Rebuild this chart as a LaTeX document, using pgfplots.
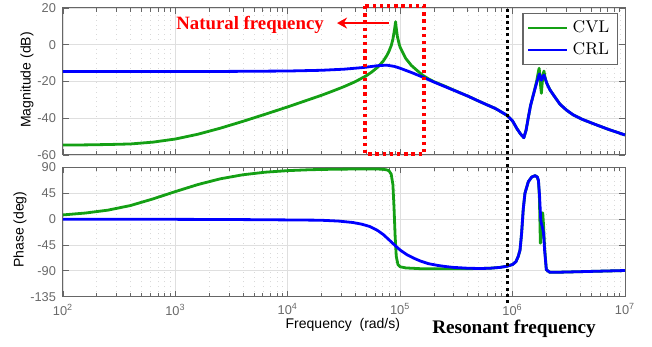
\documentclass[border=0pt]{standalone}
\usepackage{fontspec}
\usepackage{pgfplots}
\pgfplotsset{compat=1.18}
\usetikzlibrary{arrows.meta}
\newfontfamily\arial{Liberation Sans}
\newfontfamily\tnr{Liberation Serif}
\definecolor{cvl}{RGB}{20,160,20}
\definecolor{crl}{RGB}{0,0,255}
\definecolor{tickgray}{RGB}{105,105,105}
\pgfplotsset{
  bode/.style={
    scale only axis, width=281pt, clip=false,
    xmin=2, xmax=7,
    xtick={2,3,4,5,6,7},
    minor xtick={2.30103,2.47712,2.60206,2.69897,2.77815,2.84510,2.90309,2.95424,
                 3.30103,3.47712,3.60206,3.69897,3.77815,3.84510,3.90309,3.95424,
                 4.30103,4.47712,4.60206,4.69897,4.77815,4.84510,4.90309,4.95424,
                 5.30103,5.47712,5.60206,5.69897,5.77815,5.84510,5.90309,5.95424,
                 6.30103,6.47712,6.60206,6.69897,6.77815,6.84510,6.90309,6.95424},
    xmajorgrids, xminorgrids, ymajorgrids,
    major grid style={gray!25, line width=0.4pt},
    minor grid style={gray!30, dotted, line width=0.35pt},
    tick align=inside,
    major tick length=3pt, minor tick length=1.8pt,
    axis line style={black!60, line width=0.5pt},
    tick style={black!60, line width=0.4pt},
    tick label style={font=\arial\fontsize{6.4}{7}\selectfont, color=tickgray},
    label style={font=\arial\fontsize{7}{8}\selectfont},
    every axis plot/.append style={line width=1.4pt, line join=round},
  }
}
\begin{document}
\begin{tikzpicture}
\path[use as bounding box] (0,0) rectangle (326pt,173.5pt);
\begin{axis}[bode, at={(31.5pt,96pt)}, anchor=south west, height=73.5pt,
  ymin=-60, ymax=20, ytick={-60,-40,-20,0,20}, yticklabels={-60,-40,-20,0,20},
  xticklabels={},
  ylabel={Magnitude (dB)},
  ylabel style={at={(axis description cs:-0.064,0.51)}, anchor=center},
  legend style={at={(axis description cs:0.9875,0.966)}, anchor=north east,
    font=\fontsize{8.5}{10}\selectfont, draw=black!60, line width=0.6pt,
    fill=white, inner xsep=2pt, inner ysep=1.5pt, row sep=-0.5pt},
  legend cell align=left,
  legend image code/.code={\draw[#1] (0pt,0pt) -- (19.5pt,0pt);},
]
\addplot[cvl] coordinates {
(2.0,-54.6)(2.2,-54.5)(2.4,-54.3)(2.6,-54.0)(2.8,-53.0)(3.0,-51.3)(3.2,-48.7)(3.4,-45.4)
(3.6,-41.7)(3.8,-37.8)(4.0,-33.8)(4.2,-29.6)(4.3,-27.5)(4.4,-25.2)(4.5,-22.8)(4.6,-20.1)
(4.7,-16.8)(4.75,-14.7)(4.8,-12.2)(4.85,-8.8)(4.88,-6.0)(4.9,-3.6)(4.92,-0.5)(4.935,3)
(4.95,8.5)(4.959,12.5)(4.965,9)(4.975,4.5)(4.99,0.5)(5.0,-1.5)(5.025,-4.5)(5.05,-7.5)
(5.1,-11.3)(5.15,-14.0)(5.2,-16.6)(5.25,-18.5)(5.3,-20.1)(5.4,-22.6)(5.47,-24.5)
(5.6,-27.9)(5.71,-31.0)(5.85,-34.8)(5.95,-38.4)(6.0,-41.5)(6.04,-45.8)(6.07,-48.5)
(6.10,-50.6)(6.12,-46.5)(6.14,-39.5)(6.16,-33)(6.19,-26)(6.215,-19.5)(6.23,-14.5)
(6.236,-12.8)(6.242,-16)(6.25,-23)(6.256,-26.4)(6.262,-22)(6.27,-16.5)(6.279,-14.3)
(6.288,-17.5)(6.3,-20.5)(6.333,-24.6)(6.38,-28.8)(6.422,-32.4)(6.48,-35.6)(6.54,-38.2)
(6.62,-40.6)(6.72,-43.0)(6.85,-46.0)(7.0,-49.1)};
\addlegendentry{CVL}
\addplot[crl] coordinates {
(2,-14.6)(3,-14.6)(3.5,-14.5)(4.0,-14.3)(4.3,-13.9)(4.5,-13.3)(4.67,-12.4)(4.8,-11.4)
(4.88,-11.1)(4.95,-11.8)(5.0,-12.8)(5.1,-15.1)(5.2,-17.6)(5.3,-20.3)(5.47,-24.6)
(5.6,-27.9)(5.71,-31.0)(5.85,-34.8)(5.95,-38.4)(6.0,-41.5)(6.04,-45.8)(6.07,-48.5)
(6.10,-50.6)(6.12,-46.5)(6.14,-39.5)(6.16,-33)(6.19,-26)(6.215,-20.5)(6.238,-15.9)
(6.248,-18)(6.256,-19.3)(6.268,-17.5)(6.279,-16.5)(6.29,-18.5)(6.31,-21.8)(6.333,-24.6)
(6.38,-28.8)(6.422,-32.4)(6.48,-35.6)(6.54,-38.2)(6.62,-40.6)(6.72,-43.0)(6.85,-46.0)
(7.0,-49.1)};
\addlegendentry{CRL}
\draw[red, line width=1.7pt, dash pattern=on 1.7pt off 1.9pt]
  (axis cs:4.687,21.1) rectangle (axis cs:5.212,-59.5);
\draw[red, line width=1.2pt, -{Stealth[length=5pt,width=5.5pt]}]
  (axis cs:4.9,11.8) -- (axis cs:4.438,11.8);
\node[text=red, font=\tnr\bfseries\fontsize{9.4}{11}\selectfont, anchor=center]
  at (axis cs:3.664,10.75) {Natural frequency};
\end{axis}
\begin{axis}[bode, at={(31.5pt,25.15pt)}, anchor=south west, height=64.7pt,
  ymin=-135, ymax=90, ytick={-135,-90,-45,0,45,90}, yticklabels={-135,-90,-45,0,45,90},
  xticklabels={10\textsuperscript{2},10\textsuperscript{3},10\textsuperscript{4},10\textsuperscript{5},10\textsuperscript{6},10\textsuperscript{7}},
  ylabel={Phase (deg)},
  ylabel style={at={(axis description cs:-0.0765,0.518)}, anchor=center},
  xlabel={Frequency\ \ (rad/s)},
  xlabel style={at={(axis description cs:0.498,-0.219)}, anchor=center},
]
\addplot[cvl] coordinates {
(2.0,7.2)(2.2,10.5)(2.4,15.5)(2.6,23.5)(2.8,35)(3.0,47.8)(3.2,60)(3.4,70)(3.6,77)
(3.8,81.5)(4.0,84.2)(4.2,85.8)(4.4,86.6)(4.6,87)(4.8,87)(4.85,86.5)(4.88,85.5)(4.9,84)
(4.92,78)(4.935,60)(4.945,20)(4.955,-30)(4.965,-65)(4.98,-79)(5.0,-83)(5.05,-85)
(5.2,-86.5)(5.5,-86.5)(5.71,-86)(5.8,-85.5)(5.89,-84)(5.95,-82)(6.0,-79)(6.03,-74)
(6.05,-65)(6.066,-54)(6.08,-25)(6.095,18)(6.11,45)(6.14,65)(6.17,73)(6.20,75.5)(6.22,73)
(6.23,66)(6.238,40)(6.247,-42)(6.255,-20)(6.262,5)(6.268,11)(6.275,-10)(6.285,-50)
(6.3,-88)(6.33,-92.5)(6.4,-92.5)(6.6,-91.5)(6.8,-90.5)(7.0,-89.5)};
\addplot[crl] coordinates {
(2,-0.3)(3,-0.5)(3.5,-0.8)(4.0,-1.5)(4.29,-2)(4.45,-3.5)(4.58,-6)(4.66,-9)(4.73,-13)
(4.8,-20)(4.85,-27)(4.9,-36)(4.96,-47)(5.0,-54)(5.06,-62)(5.12,-68)(5.18,-73)(5.25,-77.5)
(5.33,-80.5)(5.4,-82.5)(5.47,-84)(5.6,-85.5)(5.71,-86)(5.8,-85.5)(5.89,-84)(5.95,-82)
(6.0,-79)(6.03,-74)(6.05,-65)(6.066,-54)(6.08,-25)(6.095,18)(6.11,45)(6.14,65)(6.17,73)
(6.20,75.5)(6.22,73)(6.23,67)(6.24,40)(6.25,0)(6.255,-7)(6.265,-14)(6.275,-24)
(6.285,-55)(6.3,-88)(6.33,-92.5)(6.4,-92.5)(6.6,-91.5)(6.8,-90.5)(7.0,-89.5)};
\draw[black, line width=1.5pt, dash pattern=on 1.5pt off 1.6pt]
  (axis cs:5.955,-146) -- (axis cs:5.955,369);
\node[font=\tnr\bfseries\fontsize{9.6}{11}\selectfont, anchor=center]
  at (axis cs:6.012,-191) {Resonant frequency};
\end{axis}
\end{tikzpicture}
\end{document}
